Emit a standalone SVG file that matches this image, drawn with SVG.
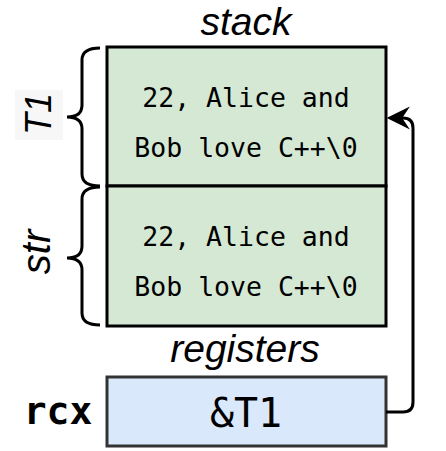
<svg xmlns="http://www.w3.org/2000/svg" width="446" height="451" viewBox="0 0 446 451">
<defs>
<style>
.title{font-family:"Liberation Sans",Arial,sans-serif;font-style:italic;font-size:39px;fill:#000;text-anchor:middle}
.lbl{font-family:"Liberation Sans",Arial,sans-serif;font-style:italic;fill:#000;text-anchor:middle}
.mono{font-family:"DejaVu Sans Mono",monospace;font-size:26.5px;fill:#000;text-anchor:middle}
.box{fill:#d5e8d4;stroke:#000;stroke-width:3}
.reg{fill:#dae8fc;stroke:#333;stroke-width:3}
.brace{fill:none;stroke:#000;stroke-width:3}
.conn{fill:none;stroke:#000;stroke-width:3}
.head{fill:#000;stroke:#000;stroke-width:2;stroke-linejoin:miter}
</style>
</defs>
<rect width="446" height="451" fill="#fff"/>
<text class="title" x="246" y="35">stack</text>
<text class="title" x="245" y="362">registers</text>
<g id="T1">
<rect class="box" x="107" y="47" width="279" height="139"/>
<text class="mono" x="246" y="107">22, Alice and</text>
<text class="mono" x="246" y="157">Bob love C++\0</text>
</g>
<g id="str">
<rect class="box" x="107" y="186" width="279" height="140"/>
<text class="mono" x="246" y="246">22, Alice and</text>
<text class="mono" x="246" y="296">Bob love C++\0</text>
</g>
<g id="rcx">
<rect class="reg" x="107" y="377" width="279" height="69"/>
<text x="246" y="427" style="font-family:'DejaVu Sans Mono',monospace;font-size:40px;text-anchor:middle">&amp;T1</text>
<text x="58" y="424" style="font-family:'DejaVu Sans Mono',monospace;font-weight:bold;font-size:38px;text-anchor:middle">rcx</text>
</g>
<g id="T1-label">
<rect x="15" y="90" width="48" height="50" fill="#f7f7f7"/>
<path class="brace" d="M100,48 Q82,48 82,60 L82,105 Q82,117 67,117 Q82,117 82,129 L82,174 Q82,186 100,186"/>
<text class="lbl" transform="translate(51,114) rotate(-90)" style="font-size:36px" x="0" y="0">T1</text>
</g>
<g id="str-label">
<path class="brace" d="M100,187 Q82,187 82,199 L82,246 Q82,258 67,258 Q82,258 82,270 L82,313 Q82,325 100,325"/>
<text class="lbl" transform="translate(50,252) rotate(-90)" style="font-size:40px" x="0" y="0">str</text>
</g>
<g id="connectors">
<path class="conn" d="M386,412 L403,412 Q413,412 413,402 L413,128 Q413,118 403,118 L400,118"/>
<path class="head" d="M389,118 L407,109 L401,118 L407,127 Z"/>
</g>
</svg>
